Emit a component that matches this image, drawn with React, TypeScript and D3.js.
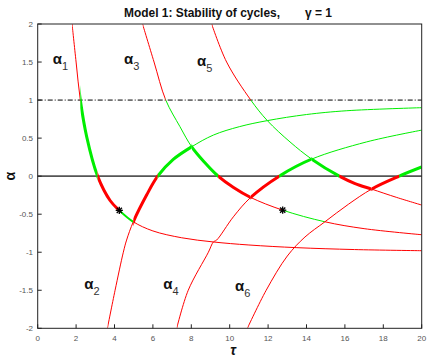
import React from "react";
import * as d3 from "d3";

// ---- data ----
const tauTicks = [0, 2, 4, 6, 8, 10, 12, 14, 16, 18, 20];
const alphaTicks = [-2, -1.5, -1, -0.5, 0, 0.5, 1, 1.5, 2];

// curves alpha_k(tau): [tau, alpha]
const alpha1: [number, number][] = [
  [1.79, 2], [2.0, 1.5], [2.22, 1], [2.55, 0.52], [3.12, 0], [3.77, -0.32], [4.25, -0.45],
  [4.98, -0.6], [6, -0.72], [7.5, -0.81], [9.15, -0.865], [11, -0.905], [13.5, -0.94], [16.5, -0.965], [20, -0.98],
];
const alpha2: [number, number][] = [
  [3.63, -2], [4.03, -1.5], [4.46, -1], [4.63, -0.84], [4.98, -0.6], [5.68, -0.245], [6.25, 0],
  [7.06, 0.22], [8.02, 0.386], [9.15, 0.54], [10.5, 0.65], [11.96, 0.73], [14, 0.81], [16.1, 0.86], [20, 0.9],
];
const alpha3: [number, number][] = [
  [5.46, 2], [6.06, 1.5], [6.67, 1], [7.41, 0.65], [8.02, 0.386], [8.7, 0.18], [9.4, 0], [10.2, -0.15],
  [11.09, -0.28], [12.76, -0.447], [14.96, -0.6], [17, -0.69], [20, -0.77],
];
const alpha4: [number, number][] = [
  [7.24, -2], [7.84, -1.5], [8.89, -1], [9.15, -0.865], [9.32, -0.84], [10.19, -0.535], [11.09, -0.28],
  [12.58, 0], [14.27, 0.224], [17.13, 0.45], [20, 0.605],
];
const alpha5: [number, number][] = [
  [9.06, 2], [9.84, 1.5], [11.1, 1], [11.96, 0.73], [13.14, 0.45], [14.27, 0.224], [15.71, 0],
  [16.53, -0.097], [17.39, -0.17], [18.7, -0.28], [20, -0.38],
];
const alpha6: [number, number][] = [
  [10.92, -2], [11.9, -1.5], [13.0, -1.05], [13.92, -0.8], [14.96, -0.6], [16.18, -0.37],
  [17.39, -0.17], [18.83, 0], [20, 0.12],
];

// stability segments per curve: [tauFrom, tauTo, style]
const seg1: [number, number, string][] = [[1.79, 2.22, "rt"], [2.22, 3.12, "gT"], [3.12, 4.25, "rT"], [4.25, 4.98, "gm"], [4.98, 20, "rt"]];
const seg2: [number, number, string][] = [[3.63, 4.98, "rt"], [4.98, 6.25, "rT"], [6.25, 8.02, "gT"], [8.02, 20, "gt"]];
const seg3: [number, number, string][] = [[5.46, 6.67, "rt"], [6.67, 8.02, "gt"], [8.02, 9.4, "gT"], [9.4, 11.09, "rT"], [11.09, 12.76, "rt"], [12.76, 14.96, "gt"], [14.96, 20, "rt"]];
const seg4: [number, number, string][] = [[7.24, 11.09, "rt"], [11.09, 12.58, "rT"], [12.58, 14.27, "gT"], [14.27, 20, "gt"]];
const seg5: [number, number, string][] = [[9.06, 11.1, "rt"], [11.1, 14.27, "gt"], [14.27, 15.71, "gT"], [15.71, 17.39, "rT"], [17.39, 20, "rt"]];
const seg6: [number, number, string][] = [[10.92, 17.39, "rt"], [17.39, 18.83, "rT"], [18.83, 20, "gT"]];

const curveLabels = ["1", "2", "3", "4", "5", "6"];
const stars: [number, number][] = [[4.25, -0.45], [12.76, -0.447]];

const curves = [alpha1, alpha2, alpha3, alpha4, alpha5, alpha6];
const segs = [seg1, seg2, seg3, seg4, seg5, seg6];

const STYLE: Record<string, { c: string; w: number }> = {
  rt: { c: "#ff0000", w: 1 },
  rT: { c: "#ff0000", w: 3 },
  gt: { c: "#00ee00", w: 1 },
  gT: { c: "#00ee00", w: 3 },
  gm: { c: "#00ee00", w: 2 },
};

export default function App() {
  const W = 428, H = 359;
  const X0 = 37.7, X1 = 421.7, Y0 = 24, Y1 = 328.3;
  const x = d3.scaleLinear().domain([0, 20]).range([X0, X1]);
  const y = d3.scaleLinear().domain([-2, 2]).range([Y1, Y0]);
  const line = d3
    .line<[number, number]>()
    .x((d) => x(d[0]))
    .y((d) => y(d[1]))
    .curve(d3.curveCatmullRom.alpha(0.5));

  const labelPos: [number, number][] = [
    [52.7, 64], [84.3, 289], [124, 64], [163.3, 289], [197, 66], [235, 291],
  ];

  const items: { key: string; d: string; s: string; x0: number; x1: number; thick: boolean }[] = [];
  curves.forEach((pts, i) => {
    const d = line(pts) || "";
    segs[i].forEach((sg, j) => {
      items.push({ key: `c${i}-${j}`, d, s: sg[2], x0: x(sg[0]), x1: x(sg[1]), thick: STYLE[sg[2]].w > 1 });
    });
  });
  const ordered = [...items.filter((it) => !it.thick), ...items.filter((it) => it.thick)];

  const font = "Liberation Sans, Arial, Helvetica, sans-serif";

  return (
    <svg width={W} height={H} style={{ position: "absolute", left: 0, top: 0, background: "#fff" }} fontFamily={font}>
      <defs>
        {items.map((it) => (
          <clipPath id={`clip-${it.key}`} key={it.key}>
            <rect x={it.x0} y={Y0} width={Math.max(0, it.x1 - it.x0)} height={Y1 - Y0} />
          </clipPath>
        ))}
        <clipPath id="plot">
          <rect x={X0} y={Y0} width={X1 - X0} height={Y1 - Y0} />
        </clipPath>
      </defs>

      {/* title */}
      <text x={124} y={17} fontSize={12} fontWeight="bold" fill="#111" textLength={156} lengthAdjust="spacingAndGlyphs">
        Model 1:  Stability of cycles,
      </text>
      <text x={305} y={17} fontSize={12} fontWeight="bold" fill="#111">
        γ = 1
      </text>

      {/* reference lines */}
      <line x1={X0} x2={X1} y1={y(0)} y2={y(0)} stroke="#555" strokeWidth={1.6} />
      <line x1={X0} x2={X1} y1={y(1)} y2={y(1)} stroke="#000" strokeWidth={1} strokeDasharray="5,2,1,2" />

      {/* curves */}
      <g clipPath="url(#plot)">
        {ordered.map((it) => (
          <g clipPath={`url(#clip-${it.key})`} key={it.key}>
            <path d={it.d} fill="none" stroke={STYLE[it.s].c} strokeWidth={STYLE[it.s].w} />
          </g>
        ))}
      </g>

      {/* stars */}
      {stars.map((p, i) => {
        const cx = x(p[0]), cy = y(p[1]), r = 3.6;
        return (
          <g key={i} stroke="#000" strokeWidth={1.3}>
            <line x1={cx - r} x2={cx + r} y1={cy} y2={cy} />
            <line x1={cx} x2={cx} y1={cy - r} y2={cy + r} />
            <line x1={cx - r * 0.72} x2={cx + r * 0.72} y1={cy - r * 0.72} y2={cy + r * 0.72} />
            <line x1={cx - r * 0.72} x2={cx + r * 0.72} y1={cy + r * 0.72} y2={cy - r * 0.72} />
          </g>
        );
      })}

      {/* frame */}
      <rect x={X0} y={Y0} width={X1 - X0} height={Y1 - Y0} fill="none" stroke="#222" strokeWidth={1} />

      {/* ticks */}
      {tauTicks.map((t) => (
        <g key={`xt${t}`}>
          <line x1={x(t)} x2={x(t)} y1={Y1} y2={Y1 - 4} stroke="#222" />
          <text x={x(t)} y={341} fontSize={8} fill="#555" textAnchor="middle">
            {t}
          </text>
        </g>
      ))}
      {alphaTicks.map((a) => (
        <g key={`yt${a}`}>
          <line x1={X0} x2={X0 + 4} y1={y(a)} y2={y(a)} stroke="#222" />
          <text x={33} y={y(a) + 3} fontSize={8} fill="#555" textAnchor="end">
            {a}
          </text>
        </g>
      ))}

      {/* axis labels */}
      <text x={233} y={355} fontSize={14} fontWeight="bold" fontStyle="italic" textAnchor="middle" fill="#111">
        τ
      </text>
      <text transform={`translate(15,${y(0)}) rotate(-90)`} fontSize={14} fontWeight="bold" textAnchor="middle" fill="#111">
        α
      </text>

      {/* curve labels */}
      {curveLabels.map((k, i) => (
        <text key={k} x={labelPos[i][0]} y={labelPos[i][1]} fill="#111">
          <tspan fontSize={15} fontWeight="bold">α</tspan>
          <tspan fontSize={11} dy={6} fill="#333">{k}</tspan>
        </text>
      ))}
    </svg>
  );
}
